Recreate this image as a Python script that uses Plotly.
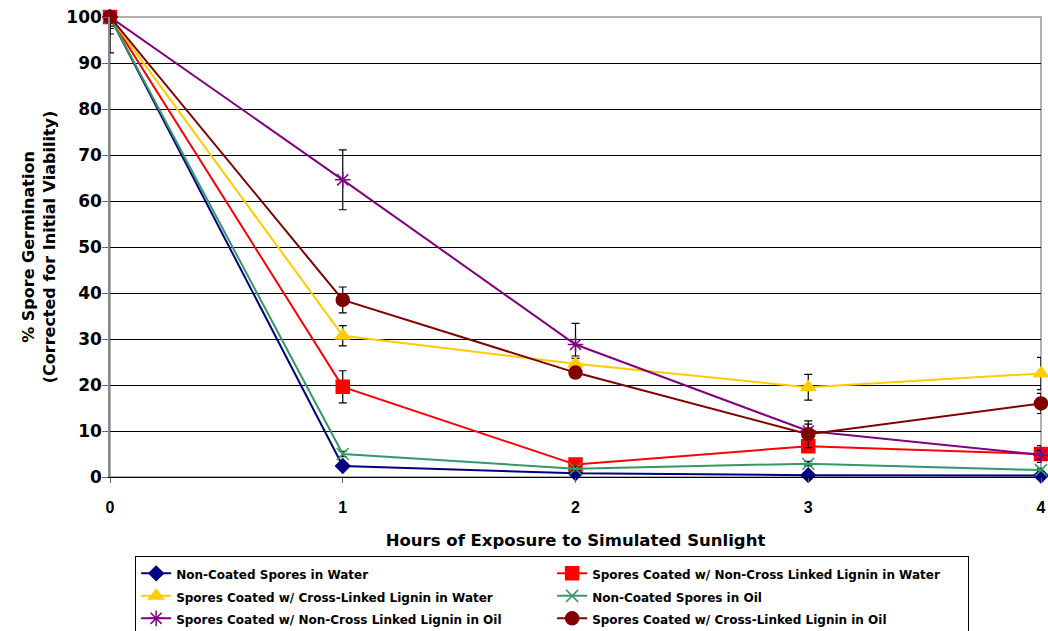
import plotly.graph_objects as go

hours = [0, 1, 2, 3, 4]

names = [
    "Non-Coated Spores in Water",
    "Spores Coated w/ Non-Cross Linked Lignin in Water",
    "Spores Coated w/ Cross-Linked Lignin in Water",
    "Non-Coated Spores in Oil",
    "Spores Coated w/ Non-Cross Linked Lignin in Oil",
    "Spores Coated w/ Cross-Linked Lignin in Oil",
]

noncoated_water = [100, 2.4, 0.8, 0.4, 0.3]
ncl_water = [100, 19.6, 2.7, 6.7, 5.0]
cl_water = [100, 30.7, 24.6, 19.5, 22.5]
noncoated_oil = [100, 5.0, 1.8, 2.9, 1.5]
ncl_oil = [100, 64.6, 28.8, 10.0, 4.8]
cl_oil = [100, 38.5, 22.7, 9.3, 16.0]

err_plus = [
    [0, 0.5, 0.3, 0.2, 0.2],
    [0, 3.5, 0.6, 1.0, 1.8],
    [0, 2.2, 1.2, 2.8, 3.5],
    [0, 0.6, 0.4, 0.5, 0.4],
    [0, 6.5, 4.6, 1.5, 1.0],
    [0, 2.8, 1.0, 2.9, 2.2],
]
err_minus = [
    [0.5, 0.5, 0.3, 0.2, 0.2],
    [2.0, 3.5, 0.6, 1.0, 1.8],
    [3.7, 2.2, 1.2, 2.8, 3.5],
    [1.0, 0.6, 0.4, 0.5, 0.4],
    [7.8, 6.5, 2.5, 1.5, 1.0],
    [2.5, 2.8, 1.0, 2.9, 2.2],
]

series = [noncoated_water, ncl_water, cl_water, noncoated_oil, ncl_oil, cl_oil]
colors = ["#000080", "#FF0000", "#FFCC00", "#339966", "#800080", "#800000"]
symbols = ["diamond", "square", "triangle-up", "x-thin-open", "asterisk-open", "circle"]
sizes = [11, 13, 13, 12, 13, 13]

WIDE = "DejaVu Sans, Arial, sans-serif"

fig = go.Figure()
for name, vals, c, s, sz, ep, em in zip(names, series, colors, symbols, sizes, err_plus, err_minus):
    fig.add_trace(go.Scatter(
        x=hours, y=vals, name='<span style="font-size:12px">' + name + "</span>",
        mode="lines+markers",
        line=dict(color=c, width=2),
        marker=dict(symbol=s, size=sz, color=c, line=dict(color=c, width=1.5)),
        error_y=dict(type="data", symmetric=False, array=ep, arrayminus=em,
                     color="black", thickness=1.2, width=4),
        cliponaxis=False,
    ))

fig.update_layout(
    template="none",
    width=1048, height=631,
    margin=dict(l=110, r=7, t=17, b=154, autoexpand=False),
    paper_bgcolor="white", plot_bgcolor="white",
    font=dict(family="Arial, Liberation Sans, sans-serif", color="black"),
    showlegend=True,
    legend=dict(
        orientation="h", x=0.027, y=-0.172, xanchor="left", yanchor="top",
        entrywidth=371, entrywidthmode="pixels",
        bordercolor="black", borderwidth=1,
        font=dict(size=15, family=WIDE, color="black", weight="bold"),
        itemwidth=30,
    ),
    shapes=[dict(type="rect", xref="paper", yref="paper", x0=0, y0=0, x1=1, y1=1,
                 line=dict(color="#999999", width=1.5), layer="between")],
)

fig.update_xaxes(
    range=[0, 4], tickvals=hours, ticks="outside", ticklen=5, tickcolor="#666666",
    showgrid=False, zeroline=False, showline=True, linecolor="black", linewidth=1,
    automargin=False, ticklabelstandoff=11, ticklabeloverflow="allow",
    tickfont=dict(size=16, weight="bold"),
    title=dict(text="Hours of Exposure to Simulated Sunlight",
               font=dict(size=16.5, family=WIDE, weight="bold"), standoff=19),
)
fig.update_yaxes(
    range=[0, 100], dtick=10, ticks="outside", ticklen=6, tickcolor="#666666",
    showgrid=True, gridcolor="black", gridwidth=1, zeroline=False,
    showline=True, linecolor="#888888", linewidth=1.5,
    automargin=False, ticklabelstandoff=-3, ticklabeloverflow="allow",
    tickfont=dict(size=17, family=WIDE, weight="bold"),
    title=dict(text="% Spore Germination<br>(Corrected for Initial Viability)",
               font=dict(size=16, family=WIDE, weight="bold"), standoff=7),
)

fig.write_html(
    "out.html",
    config={"displayModeBar": False},
    post_script="document.body.style.margin='0';document.body.style.overflow='hidden';",
)
